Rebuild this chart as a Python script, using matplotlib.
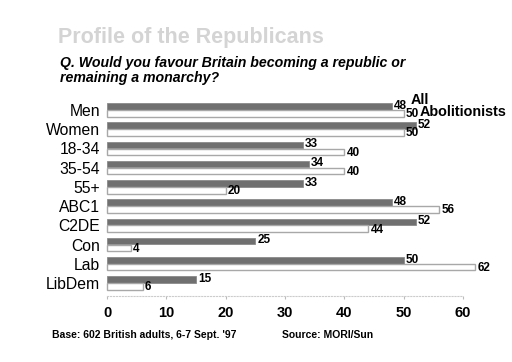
import matplotlib
matplotlib.use("Agg")
import matplotlib.pyplot as plt
import numpy as np

categories = ["Men", "Women", "18-34", "35-54", "55+", "ABC1", "C2DE", "Con", "Lab", "LibDem"]
all_vals = [48, 52, 33, 34, 33, 48, 52, 25, 50, 15]
abol_vals = [50, 50, 40, 40, 20, 56, 44, 4, 62, 6]
xticks = [0, 10, 20, 30, 40, 50, 60]

plt.rcParams['font.family'] = ['Liberation Sans', 'DejaVu Sans']
W, H = 512, 362
fig = plt.figure(figsize=(W/100, H/100), dpi=100)
fig.patch.set_facecolor('white')

left, right = 107, 463
top, bottom = 100.4, 296.4
ax = fig.add_axes([left/W, 1-bottom/H, (right-left)/W, (bottom-top)/H])
y = np.arange(len(categories))
bh = 0.34
ax.barh(y-0.18, all_vals, height=bh, color='#707070', edgecolor='#8a8a8a', linewidth=0.6, clip_on=False)
ax.barh(y+0.18, abol_vals, height=bh, color='white', edgecolor='#a8a8a8', linewidth=1.0, clip_on=False)
for yi, a, b in zip(y, all_vals, abol_vals):
    ax.text(a+0.4, yi-0.22, str(a), fontsize=8.5, fontweight='bold', va='center', ha='left')
    ax.text(b+0.4, yi+0.22, str(b), fontsize=8.5, fontweight='bold', va='center', ha='left')
ax.text(all_vals[0]+3.1, -0.5, "All", fontsize=10.4, fontweight='bold', va='center', ha='left')
ax.text(abol_vals[0]+2.7, 0.1, "Abolitionists", fontsize=10.4, fontweight='bold', va='center', ha='left')

ax.set_xlim(0, 60)
ax.set_ylim(9.7, -0.5)
ax.set_yticks(y)
ax.set_yticklabels(categories, fontsize=11.3)
ax.set_xticks(xticks)
ax.set_xticklabels([str(t) for t in xticks], fontsize=10.5, fontweight='bold')
ax.tick_params(axis='y', length=0, pad=5)
ax.tick_params(axis='x', length=2, color='#bbbbbb', pad=5)
for s in ['top', 'right', 'left']:
    ax.spines[s].set_visible(False)
ax.spines['bottom'].set_color('#cccccc')
ax.spines['bottom'].set_linestyle(':')
ax.spines['bottom'].set_linewidth(0.8)

fig.text(58/W, 1-38/H, "Profile of the Republicans", fontsize=15.5, fontweight='bold',
         color='#d4d4d4', va='center', ha='left')
fig.text(60/W, 1-63/H, "Q. Would you favour Britain becoming a republic or", fontsize=10.2,
         fontweight='bold', style='italic', va='center', ha='left')
fig.text(60/W, 1-78/H, "remaining a monarchy?", fontsize=10.2,
         fontweight='bold', style='italic', va='center', ha='left')
fig.text(52/W, 1-335/H, "Base: 602 British adults, 6-7 Sept. '97", fontsize=7.5,
         fontweight='bold', va='center', ha='left')
fig.text(282/W, 1-335/H, "Source: MORI/Sun", fontsize=7.5,
         fontweight='bold', va='center', ha='left')

fig.savefig("out.png", dpi=100, facecolor='white')
